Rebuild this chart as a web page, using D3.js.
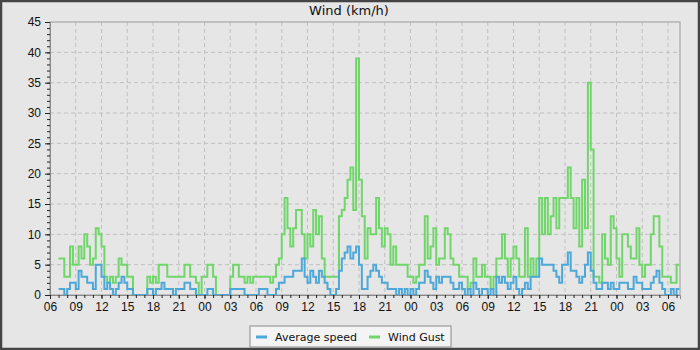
<!DOCTYPE html>
<html lang="en">
<head>
<meta charset="UTF-8">
<title>Wind (km/h)</title>
<script src="https://d3js.org/d3.v7.min.js"></script>
<style>
    body { margin: 0; background: #e6e6e6; }
    svg { display: block; font-family: "DejaVu Sans", sans-serif; }
    .grid line { stroke: #c0c0c0; stroke-dasharray: 4,3; }
    .axis path { stroke: #8a8a8a; }
    .axis line { stroke: #222; }
    .axis text { fill: #111; font-size: 12px; }
</style>
</head>
<body>
<svg width="700" height="350"></svg>
<script>
    // 20-minute samples starting 07:00 on the first day
    const startTime = new Date(2024, 0, 1, 7, 0);
    const stepMinutes = 20;

    const windGust = [
        6,6,3, 3,8,5, 5,8,6, 10,8,5, 6,11,10, 8,3,2, 3,2,3, 6,5,5, 3,3,0, 0,0,0,
        0,3,2, 3,2,5, 5,5,3, 3,3,3, 3,3,5, 5,3,3, 2,0,3, 3,5,5, 3,0,0, 0,0,0,
        3,5,5, 3,3,2, 3,2,3, 3,3,3, 3,3,2, 3,5,6, 10,16,11, 8,11,14, 14,10,6, 10,8,14,
        10,13,6, 3,3,3, 3,3,13, 14,16,19, 21,14,39, 19,13,6, 11,10,10, 16,11,8, 11,10,5, 8,5,5,
        5,5,3, 3,2,3, 5,5,13, 6,8,11, 5,6,6, 11,10,6, 5,5,3, 3,3,1, 2,6,3, 3,5,3,
        3,1,3, 6,6,10, 6,3,6, 8,6,3, 3,11,3, 6,3,6, 16,10,16, 10,13,16, 11,16,16, 16,21,16,
        11,16,8, 19,11,35, 24,3,3, 2,10,6, 5,13,11, 6,3,10, 10,8,6, 6,11,5, 3,5,5, 10,13,13,
        8,3,3, 3,2,2, 5
    ];
    const averageSpeed = [
        1,1,0, 1,2,2, 1,4,3, 3,2,2, 1,5,5, 3,1,2, 1,0,1, 2,3,2, 1,1,0, 0,0,0,
        0,1,1, 0,1,1, 2,1,1, 1,0,1, 1,1,2, 2,1,1, 0,0,0, 0,1,1, 0,0,0, 0,0,0,
        1,1,1, 1,1,0, 0,0,0, 0,1,1, 1,0,0, 0,1,2, 2,3,3, 3,4,4, 4,6,3, 2,4,3,
        2,4,3, 2,1,0, 0,1,4, 6,7,8, 6,7,8, 5,1,1, 3,4,5, 4,3,2, 2,1,1, 1,0,1,
        0,1,0, 1,0,1, 2,2,4, 3,2,1, 3,2,3, 3,3,2, 1,1,2, 1,0,1, 0,2,1, 0,1,1,
        0,1,0, 3,2,3, 2,1,2, 3,1,0, 1,2,1, 3,3,3, 6,5,5, 5,5,4, 3,2,5, 5,7,4,
        4,3,2, 3,5,7, 4,2,1, 1,2,2, 1,2,1, 1,2,2, 2,1,1, 3,2,2, 1,1,1, 2,3,4,
        2,1,0, 0,1,0, 1
    ];
    const yTicks = [0, 5, 10, 15, 20, 25, 30, 35, 40, 45];
    const seriesNames = ["Average speed", "Wind Gust"];
    const seriesColors = ["#4da8da", "#70d66a"];

    const margin = {top: 22, right: 20, bottom: 55, left: 50};
    const width = 700 - margin.left - margin.right;
    const height = 350 - margin.top - margin.bottom;

    const svg = d3.select("svg");

    // outer frame
    svg.append("rect")
        .attr("x", 1).attr("y", 1)
        .attr("width", 698).attr("height", 348)
        .attr("fill", "#e6e6e6")
        .attr("stroke", "#444").attr("stroke-width", 2.5);

    svg.append("text")
        .attr("x", 349).attr("y", 15)
        .attr("text-anchor", "middle")
        .attr("font-size", 13)
        .attr("fill", "#111")
        .text("Wind (km/h)");

    const g = svg.append("g")
        .attr("transform", `translate(${margin.left},${margin.top})`);

    const toTime = i => d3.timeMinute.offset(startTime, i * stepMinutes);

    const xStart = d3.timeHour.offset(startTime, -1);
    const xEnd = d3.timeMinute.offset(xStart, 73.4 * 60);
    const x = d3.scaleTime().domain([xStart, xEnd]).range([0, width]);
    const y = d3.scaleLinear().domain([0, 45]).range([height, 0]);

    // grid
    g.append("g").attr("class", "grid")
        .selectAll("line").data(yTicks.slice(1, -1)).join("line")
        .attr("x1", 0).attr("x2", width)
        .attr("y1", d => y(d)).attr("y2", d => y(d));
    g.append("g").attr("class", "grid")
        .selectAll("line").data(d3.timeHour.every(3).range(d3.timeHour.offset(xStart, 1), xEnd)).join("line")
        .attr("x1", d => x(d)).attr("x2", d => x(d))
        .attr("y1", 0).attr("y2", height);

    // plot border
    g.append("rect")
        .attr("width", width).attr("height", height)
        .attr("fill", "none").attr("stroke", "#9a9a9a");

    // series
    const gustData = windGust.map((v, i) => ({t: toTime(i), v}));
    const avgData = averageSpeed.map((v, i) => ({t: toTime(i), v}));
    // extend the last sample to the end of its interval
    gustData.push({t: toTime(windGust.length), v: windGust[windGust.length - 1]});
    avgData.push({t: toTime(averageSpeed.length), v: averageSpeed[averageSpeed.length - 1]});

    g.append("clipPath").attr("id", "clip")
        .append("rect").attr("width", width).attr("height", height + 2).attr("y", -1);

    const line = d3.line()
        .x(d => x(d.t))
        .y(d => y(d.v))
        .curve(d3.curveStepAfter);

    const plot = g.append("g").attr("clip-path", "url(#clip)");
    plot.append("path").datum(gustData)
        .attr("fill", "none").attr("stroke", seriesColors[1])
        .attr("stroke-width", 2).attr("d", line);
    plot.append("path").datum(avgData)
        .attr("fill", "none").attr("stroke", seriesColors[0])
        .attr("stroke-width", 2).attr("d", line);

    // axes
    g.append("g").attr("class", "axis")
        .call(d3.axisLeft(y).tickValues(yTicks).tickSize(5).tickPadding(4));
    g.append("g").attr("class", "axis")
        .call(d3.axisLeft(y).tickValues(d3.range(0, 46, 1)).tickSize(3).tickFormat(""))
        .select(".domain").remove();

    g.append("g").attr("class", "axis")
        .attr("transform", `translate(0,${height})`)
        .call(d3.axisBottom(x).ticks(d3.timeHour.every(3)).tickFormat(d3.timeFormat("%H"))
            .tickSize(4).tickPadding(3));
    g.append("g").attr("class", "axis")
        .attr("transform", `translate(0,${height})`)
        .call(d3.axisBottom(x).ticks(d3.timeHour.every(1)).tickSize(3).tickFormat(""))
        .select(".domain").remove();

    // legend
    const legend = svg.append("g").attr("transform", "translate(250,326)");
    legend.append("rect")
        .attr("width", 201).attr("height", 21)
        .attr("fill", "#f4f4f4").attr("stroke", "#8a8a8a");
    const itemX = [6, 119];
    seriesNames.forEach((name, i) => {
        legend.append("line")
            .attr("x1", itemX[i]).attr("x2", itemX[i] + 11)
            .attr("y1", 11).attr("y2", 11)
            .attr("stroke", seriesColors[i]).attr("stroke-width", 3);
        legend.append("text")
            .attr("x", itemX[i] + 19).attr("y", 15)
            .attr("font-size", 11).attr("fill", "#111")
            .text(name);
    });
</script>
</body>
</html>
